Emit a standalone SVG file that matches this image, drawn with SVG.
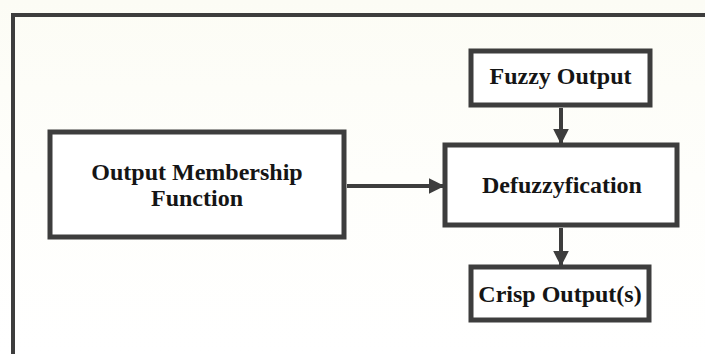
<svg xmlns="http://www.w3.org/2000/svg" width="705" height="354" viewBox="0 0 705 354">
<style>
.box{fill:#ffffff;stroke:#3d3d3d;stroke-width:5}
.lbl{font-family:"Liberation Serif","Times New Roman",serif;font-weight:bold;font-size:24px;fill:#151515;text-anchor:middle}
.conn{stroke:#3d3d3d;stroke-width:4;fill:none}
.frame{stroke:#3d3d3d;stroke-width:4;fill:none}
</style>
<defs>
<linearGradient id="bg" x1="0" y1="0" x2="0" y2="1">
<stop offset="0" stop-color="#fcfcf5"/>
<stop offset="0.5" stop-color="#fefefb"/>
<stop offset="1" stop-color="#ffffff"/>
</linearGradient>
<marker id="ah" markerWidth="4" markerHeight="4" refX="3.6" refY="2" orient="auto" markerUnits="strokeWidth">
<path d="M0,0 L4,2 L0,4 Z" fill="#3d3d3d"/>
</marker>
</defs>
<rect x="0" y="0" width="705" height="354" fill="url(#bg)"/>
<path class="frame" d="M13,354 L13,15 L705,15"/>
<g id="connectors">
<line class="conn" x1="561" y1="108" x2="561" y2="143" marker-end="url(#ah)"/>
<line class="conn" x1="347" y1="186" x2="443" y2="186" marker-end="url(#ah)"/>
<line class="conn" x1="561" y1="228" x2="561" y2="265" marker-end="url(#ah)"/>
</g>
<g id="fuzzy-output">
<rect class="box" x="471" y="51" width="179" height="54"/>
<text class="lbl" x="560.5" y="84">Fuzzy Output</text>
</g>
<g id="output-membership-function">
<rect class="box" x="50" y="132" width="294" height="105"/>
<text class="lbl" x="197" y="180">Output Membership</text>
<text class="lbl" x="197" y="206">Function</text>
</g>
<g id="defuzzyfication">
<rect class="box" x="445" y="145" width="232" height="80"/>
<text class="lbl" x="562" y="193">Defuzzyfication</text>
</g>
<g id="crisp-output">
<rect class="box" x="471" y="267" width="178" height="53"/>
<text class="lbl" x="560" y="302">Crisp Output(s)</text>
</g>
</svg>
